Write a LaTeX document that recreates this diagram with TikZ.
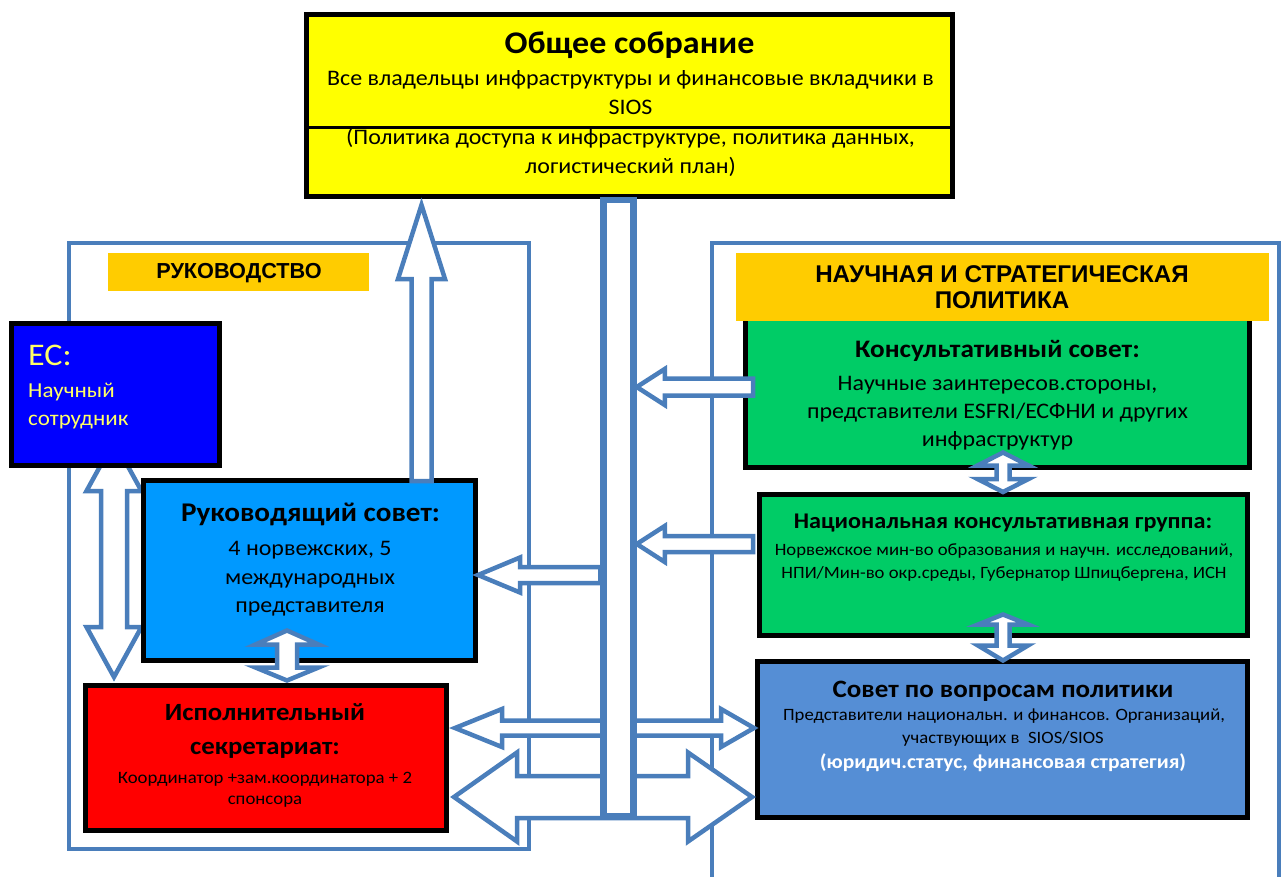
\documentclass[tikz,border=0pt]{standalone}
\usepackage{fontspec}
\setmainfont{Carlito}[FakeStretch=1.08]
\newfontfamily\arialf{Liberation Sans}
\usetikzlibrary{calc}
\pgfdeclarelayer{bg}
\pgfdeclarelayer{fg}
\pgfsetlayers{bg,main,fg}
\definecolor{ablue}{HTML}{4A7EBB}
\definecolor{gayellow}{HTML}{FFFF00}
\definecolor{ecblue}{HTML}{0000FF}
\definecolor{ectext}{HTML}{FFFF66}
\definecolor{sbblue}{HTML}{0099FF}
\definecolor{esred}{HTML}{FF0000}
\definecolor{acgreen}{HTML}{00CC66}
\definecolor{pcblue}{HTML}{558ED5}
\definecolor{laborange}{HTML}{FFCC00}
\newcommand\fs[1]{\fontsize{#1pt}{#1pt}\selectfont}
% single block arrow: tail, tip, shaft half-width, head half-width, head length
\newcommand\sarrow[5]{%
  \coordinate (hb) at ($(#2)!#5pt!(#1)$);
  \draw[barrow] (#2) -- ($(hb)!#4pt!90:(#2)$) -- ($(hb)!#3pt!90:(#2)$) -- ($(#1)!#3pt!90:(#2)$) -- ($(#1)!#3pt!-90:(#2)$) -- ($(hb)!#3pt!-90:(#2)$) -- ($(hb)!#4pt!-90:(#2)$) -- cycle;}
% double block arrow: P1, P2, shaft half-width, head half-width, head length 1, head length 2
\newcommand\darrow[6]{%
  \coordinate (ha) at ($(#1)!#5pt!(#2)$);
  \coordinate (hc) at ($(#2)!#6pt!(#1)$);
  \draw[barrow] (#1) -- ($(ha)!#4pt!90:(#2)$) -- ($(ha)!#3pt!90:(#2)$) -- ($(hc)!#3pt!-90:(#1)$) -- ($(hc)!#4pt!-90:(#1)$) -- (#2) -- ($(hc)!#4pt!90:(#1)$) -- ($(hc)!#3pt!90:(#1)$) -- ($(ha)!#3pt!-90:(#2)$) -- ($(ha)!#4pt!-90:(#2)$) -- cycle;}
\tikzset{
  box/.style={draw=black, line width=5pt, inner sep=0pt},
  lab/.style={fill=laborange, inner sep=0pt},
  frameline/.style={draw=ablue, line width=4.5pt},
  barrow/.style={draw=ablue, fill=white, line width=4.5pt, line join=miter},
  tx/.style={anchor=base, inner sep=0pt},
  txw/.style={anchor=base west, inner sep=0pt},
}
\begin{document}
\begin{tikzpicture}[x=1pt,y=-1pt]
\useasboundingbox (0,0) rectangle (1284,877);
% boxes
\node[box, fill=gayellow, minimum width=646pt, minimum height=182pt] (ga) at (629.5,105.5) {};
\draw[line width=3pt] (ga.west |- 0,128) -- (ga.east |- 0,128);
\node[box, fill=ecblue, minimum width=208pt, minimum height=142pt] (ec) at (115.5,394.5) {};
\node[box, fill=sbblue, minimum width=332pt, minimum height=180pt] (sb) at (309.5,570.5) {};
\node[box, fill=esred, minimum width=361pt, minimum height=145pt] (es) at (266,758) {};
\node[box, fill=acgreen, minimum width=504pt, minimum height=160pt] (ac) at (997.5,387.5) {};
\node[box, fill=acgreen, minimum width=488pt, minimum height=141pt] (ng) at (1003.5,565) {};
\node[box, fill=pcblue, minimum width=490pt, minimum height=156pt] (pc) at (1002.5,739.5) {};
\node[lab, minimum width=261pt, minimum height=38pt] (l1) at (238.5,272) {};
\node[lab, minimum width=533pt, minimum height=68pt] (l2) at (1002.5,287) {};
% central bar (drawn on top)
\begin{pgfonlayer}{fg}
\node[draw=ablue, line width=6.5pt, fill=white, minimum width=30pt, minimum height=616pt, inner sep=0pt] (bar) at (618.5,508) {};
\end{pgfonlayer}
% frames
\begin{pgfonlayer}{bg}
\draw[frameline] (69,243) rectangle (529,849);
\draw[frameline] (712,890) -- (712,243) -- (1279,243) -- (1279,890);
\coordinate (e1) at ($(114,0 |- ec.south)+(0,-27)$);
\coordinate (e2) at ($(114,0 |- es.north)+(0,-6)$);
\darrow{e1}{e2}{13}{27.5}{50}{50}
\end{pgfonlayer}
% texts
\node[tx, font=\fs{31.5}\bfseries] (gat) at (629.5,54) {Общее собрание};
\node[tx, font=\fs{22.2}] (ga1) at (630.5,86) {Все владельцы инфраструктуры и финансовые вкладчики в};
\node[tx, font=\fs{22.2}] (ga2) at (630.5,115) {SIOS};
\node[tx, font=\fs{22.2}] (ga3) at (630.5,145) {(Политика доступа к инфраструктуре, политика данных,};
\node[tx, font=\fs{22.2}] (ga4) at (630.5,174) {логистический план)};
\node[tx, font=\arialf\fs{21.7}\bfseries] (l1t) at (239,279) {РУКОВОДСТВО};
\node[tx, font=\arialf\fs{24.2}\bfseries] (l2a) at (1002,282) {НАУЧНАЯ И СТРАТЕГИЧЕСКАЯ};
\node[tx, font=\arialf\fs{24.2}\bfseries] (l2b) at (1002,308) {ПОЛИТИКА};
\node[txw, font=\fs{31.5}, text=ectext] (ect) at (28,365) {EC:};
\node[txw, font=\fs{21.3}, text=ectext] (ec1) at (28,397) {Научный};
\node[txw, font=\fs{21.3}, text=ectext] (ec2) at (28,425) {сотрудник};
\node[tx, font=\fs{27}\bfseries] (sbt) at (310.5,521) {Руководящий совет:};
\node[tx, font=\fs{22.2}] (sb1) at (310,555) {4 норвежских, 5};
\node[tx, font=\fs{22.2}] (sb2) at (310,584) {международных};
\node[tx, font=\fs{22.2}] (sb3) at (310,612) {представителя};
\node[tx, font=\fs{24.8}\bfseries] (est1) at (265,720) {Исполнительный};
\node[tx, font=\fs{24.8}\bfseries] (est2) at (265,754) {секретариат:};
\node[tx, font=\fs{17.4}] (es1) at (265,783) {Координатор +зам.координатора + 2};
\node[tx, font=\fs{17.4}] (es2) at (265,804) {спонсора};
\node[tx, font=\fs{25.2}\bfseries] (act) at (997.5,357) {Консультативный совет:};
\node[tx, font=\fs{22.2}] (ac1) at (997.5,390) {Научные заинтересов.стороны,};
\node[tx, font=\fs{22.2}] (ac2) at (997.5,418) {представители ESFRI/ЕСФНИ и других};
\node[tx, font=\fs{22.2}] (ac3) at (997.5,446) {инфраструктур};
\node[tx, font=\fs{22.4}\bfseries] (ngt) at (1003,528) {Национальная консультативная группа:};
\node[tx, font=\fs{17.3}] (ng1) at (1004,555) {Норвежское мин-во образования и научн. исследований,};
\node[tx, font=\fs{17.3}] (ng2) at (1004,578) {НПИ/Мин-во окр.среды, Губернатор Шпицбергена, ИСН};
\node[tx, font=\fs{25}\bfseries] (pct) at (1003,697) {Совет по вопросам политики};
\node[tx, font=\fs{17.3}] (pc1) at (1004,720) {Представители национальн. и финансов. Организаций,};
\node[tx, font=\fs{17.3}] (pc2) at (1003,743) {участвующих в \ SIOS/SIOS};
\node[tx, font=\fs{19.9}\bfseries, text=white] (pc3) at (1003,768) {(юридич.статус, финансовая стратегия)};
% arrows
\coordinate (upTip) at ($(421.5,0 |- ga.south)+(0,6)$);
\coordinate (upTail) at ($(421.5,0 |- sb.north)+(0,3)$);
\sarrow{upTail}{upTip}{10}{23.5}{74}
\coordinate (s1) at ($(287,0 |- sb.south)+(0,-32.5)$);
\coordinate (s2) at ($(287,0 |- es.north)+(0,-2.5)$);
\darrow{s1}{s2}{10}{31.5}{14}{13}
\coordinate (sbTip) at (sb.east |- 0,575);
\coordinate (sbTail) at (bar.west |- 0,575);
\sarrow{sbTail}{sbTip}{8}{17.5}{42}
\coordinate (acTip) at (bar.east |- 0,387);
\coordinate (acTail) at ($(ac.west |- 0,387)+(10,0)$);
\sarrow{acTail}{acTip}{8.5}{18}{28}
\coordinate (ngTip) at (bar.east |- 0,544);
\coordinate (ngTail) at ($(ng.west |- 0,544)+(-4,0)$);
\sarrow{ngTail}{ngTip}{8}{18}{28}
\coordinate (u1) at ($(es.east |- 0,728)+(6,0)$);
\coordinate (u2) at ($(pc.west |- 0,728)+(-1,0)$);
\darrow{u1}{u2}{7.5}{19}{47}{33}
\coordinate (w1) at ($(es.east |- 0,797)+(5,0)$);
\coordinate (w2) at ($(pc.west |- 0,797)+(-3,0)$);
\darrow{w1}{w2}{21}{44.5}{63}{64}
\coordinate (g1) at ($(1003,0 |- ac.south)+(0,-17.5)$);
\coordinate (g2) at (1003,0 |- ng.north);
\darrow{g1}{g2}{6.5}{25.5}{13}{13}
\coordinate (h1) at ($(1003,0 |- ng.south)+(0,-23.5)$);
\coordinate (h2) at ($(1003,0 |- pc.north)+(0,1.5)$);
\darrow{h1}{h2}{6.5}{25}{10}{15}
\end{tikzpicture}
\end{document}
